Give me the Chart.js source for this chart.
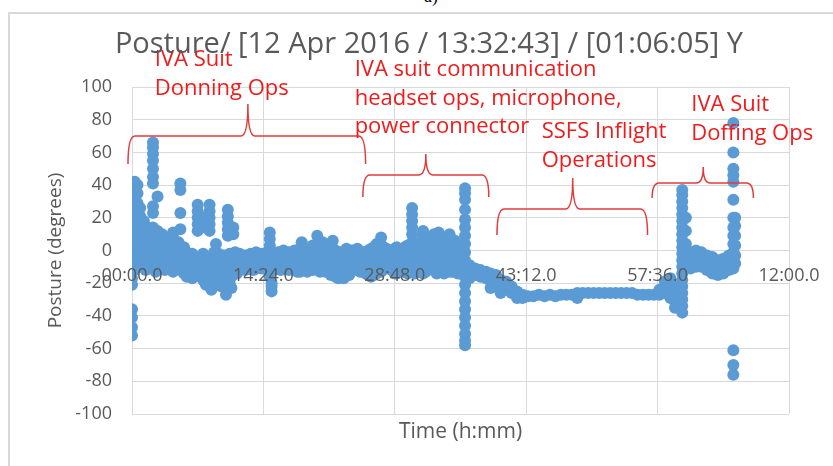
<!DOCTYPE html>
<html><head><meta charset="utf-8">
<script src="https://cdn.jsdelivr.net/npm/chart.js@4/dist/chart.umd.min.js"></script>
<style>
html,body{margin:0;padding:0;background:#fff;overflow:hidden;width:833px;height:466px;}
#frame{position:absolute;left:8px;top:12px;width:900px;height:500px;border:2px solid #d9d9d9;box-sizing:border-box;}
#wrap{position:absolute;left:0;top:0;width:858px;height:466px;}
#fig{position:absolute;left:424px;top:-14px;font:18px "Liberation Serif";color:#000;line-height:20px;}
</style></head><body>
<div id="fig">a)</div>
<div id="frame"></div>
<div id="wrap"><canvas id="c" width="858" height="466"></canvas></div>
<script>
// ---- tick labels (x axis in minutes, step 14.4 min) ----
const xTickLabels = ['00:00.0','14:24.0','28:48.0','43:12.0','57:36.0','12:00.0'];

// ---- data: time (minutes) and posture readings (degrees) ----
const donningTimes = [0.0,0.3,0.6,0.9,1.3,1.7,2.3,2.8,3.3,3.9,4.5,5.1,5.3,5.7,6.3,6.9,7.2,7.5,8.0,8.1,8.5,8.7,9.2,9.8,10.3,10.5,10.9,11.1,11.5,12.1,12.7,13.3,13.9,14.5,15.1,15.3,15.7,16.3,16.9,17.5,18.1,18.6,19.2,19.8,20.3,20.9,21.5,22.0,22.6,23.2,23.8,24.4,25.0];
const donningValues = [
  [-52,-47,-41,-36,-21,-17],
  [-12,-6,-1,4,9,13,17,22,27,32,38,42],
  [40,35,29,24,19,14,9,4,-2,-8],
  [26,21,16,11,6,0,-5,-10],
  [18,12,8,3,-3,-9],
  [14,9,5,0,-6,-11],
  [66,63,59,55,50,45,41,27,23,14,8,2,-4,-10],
  [33,12,6,1,-5,-11],
  [10,4,-2,-8],
  [7,2,-4,-10],
  [11,8,3,-3,-9,-13],
  [5,0,-5,-11],
  [41,37,23,13],
  [2,-4,-10,-14],
  [-3,-8,-13],
  [-4,-10,-15],
  [28,24,20,16,12],
  [-5,-11,-16],
  [20,14],
  [-4,-10,-17,-21],
  [28,24,20,16,12],
  [-5,-12,-18,-24],
  [4,-3,-9,-15,-20],
  [-5,-11,-17,-22],
  [-6,-12,-18,-27],
  [25,21,17,13,9],
  [-5,-11,-16,-23],
  [14,10],
  [-4,-10,-14],
  [-6,-11],
  [-5,-10],
  [-4,-9,-12],
  [-5,-10],
  [-3,-8,-11],
  [11,7,3,-1,-6,-11,-16],
  [-20,-22,-25],
  [-4,-10],
  [-2,-8,-12],
  [-5,-11],
  [-3,-9],
  [-4,-10,-13],
  [5,0,-6,-11],
  [-3,-9,-13],
  [3,-2,-8,-12],
  [9,4,-2,-8],
  [5,0,-5,-11],
  [2,-4,-10],
  [6,1,-5,-12],
  [-3,-9,-13,-17],
  [-1,-7,-12,-17],
  [0,-5,-10,-15],
  [-2,-8,-12],
  [-3,-9,-13]
];

// additional readings filling the dense band (0 - 36 min)
const bandTimes = [1.0,1.5,2.0,2.6,3.1,3.6,4.2,4.8,5.5,6.0,6.6,7.8,9.0,9.5,10.1,10.7,11.3,11.8,12.4,13.0,13.6,14.2,14.8,15.5,16.0,16.6,17.2,17.8,18.4,18.9,19.5,20.1,20.6,21.2,21.8,22.3,22.9,23.5,24.1,24.7,25.3,25.9,26.5,27.1,27.6,28.2,28.8,29.3,29.9,30.5,31.0,31.6,32.2,32.8,33.4,33.9,34.5,35.1,35.7];
const bandValues = [
  [2,-4,-10],[6,0,-7,-12],[3,-3,-9],[4,-2,-8,-13],[5,0,-6,-11],
  [3,-3,-9,-12],[6,0,-6,-11],[2,-3,-8,-12],[0,-6,-12],[-1,-7,-12,-16],
  [-2,-8,-13,-17],[-2,-8,-13,-18],[-1,-7,-12,-19],[-2,-8,-14,-21],[-3,-9,-15],
  [-2,-8,-14,-20],[-1,-7,-12],[-2,-8,-12],[-3,-8,-12],[-2,-7,-11],
  [-1,-6,-11],[-2,-7,-11],[-1,-6,-11],[-2,-7,-12],[-1,-6,-11],
  [0,-6,-11],[-1,-7,-12],[0,-6,-11],[1,-5,-10,-13],[-1,-7,-12],
  [0,-6,-11],[2,-4,-10],[3,-3,-9,-13],[2,-4,-10,-13],[1,-5,-11,-15],
  [0,-6,-12,-16],[-1,-7,-12,-15],[1,-4,-10,-14],[0,-6,-11],[1,-5,-11],
  [-1,-6,-12],[0,-6,-12,-15],[2,-4,-10,-15],[3,-2,-8,-13],[2,-4,-10],
  [0,-6,-11],[1,-5,-11,-14],[0,-6,-12],[2,-4,-10,-13],[3,-3,-9],
  [2,-4,-10,-14],[3,-3,-9,-13],[4,-2,-8,-13],[5,0,-6,-11],[3,-3,-9,-14],
  [4,-2,-8,-13],[6,1,-5,-11],[4,-2,-8,-13],[2,-4,-10,-14]
];

const commTimes = [25.6,26.2,26.8,27.3,27.9,28.5,29.0,29.6,30.2,30.7,31.3,31.9,32.5,33.1,33.6,34.2,34.8,35.4,35.9,36.5];
const commValues = [
  [-2,-8,-14],
  [1,-4,-10,-16],
  [4,-2,-8,-14],
  [8,3,-3,-9,-13],
  [1,-5,-11],
  [-2,-7,-12],
  [2,-4,-10,-14],
  [-1,-6,-12],
  [3,-3,-9,-14],
  [26,22,18,14,10,5,0,-6,-12],
  [4,-2,-8,-13],
  [12,8,3,-3,-9,-14],
  [7,2,-4,-10],
  [10,5,0,-6,-12],
  [11,6,0,-6,-13],
  [8,3,-3,-9,-14],
  [10,5,-1,-7,-13],
  [6,1,-5,-11],
  [3,-3,-9,-14],
  [38,35,31,25,19,14,9,4,-1,-6,-11,-16,-21,-26,-31,-36,-41,-46,-51,-55,-58]
];

const ssfsTimes = [37.0,37.6,38.2,38.8,39.3,39.9,40.4,41.0,41.6,42.2,42.8,43.4,44.0,44.6,45.2,45.8,46.4,47.0,47.6,48.2,48.8,49.4,50.0,50.6,51.2,51.8,52.4,53.0,53.6,54.2,54.8,55.4,56.0,56.6,57.2,57.8,58.4,59.0,59.5];
const ssfsValues = [
  [-9,-13,-17],
  [-11,-15],
  [-12,-16],
  [-13,-17],
  [-14,-19,-23],
  [-15,-20],
  [-18,-22,-26],
  [-19,-24],
  [-22,-26],
  [-25,-29],
  [-27,-29],
  [-28],
  [-28],
  [-27],
  [-28],
  [-27],
  [-28],
  [-27],
  [-27],
  [-27],
  [-26,-29],
  [-26],
  [-26],
  [-26],
  [-26],
  [-26],
  [-26],
  [-26],
  [-26],
  [-26],
  [-26],
  [-27],
  [-27],
  [-27],
  [-27],
  [-27,-24],
  [-26,-22,-19],
  [-25,-20,-17,-29],
  [-22,-27,-31,-35]
];

const doffingTimes = [60.3,60.7,61.2,61.8,62.4,63.0,63.6,64.2,64.8,65.4,65.9,66.1];
const doffingValues = [
  [37,34,30,26,22,18,14,10,6,2,-2,-6,-10,-14,-18,-22,-26,-30,-34,-38],
  [20,12,4,-2,-8],
  [-1,-6,-11],
  [0,-5,-10],
  [-1,-6,-10],
  [-3,-8,-12],
  [-4,-9,-14],
  [-6,-11,-15],
  [-5,-10,-14],
  [-3,-8,-12],
  [78,60,50,46,42,31,20,14,9,4,-1,-6,-11,-61,-70,-76],
  [20,15,9,3,-3,-8]
];

// ---- annotations (anchored in data units: minutes, degrees) ----
const noteText = [
  ['IVA Suit','Donning Ops'],
  ['IVA suit communication','headset ops, microphone,','power connector'],
  ['SSFS Inflight','Operations'],
  ['IVA Suit','Doffing Ops']
];
const noteAt = [[2.5,116.5],[24.4,110.4],[44.9,72.5],[61.3,89]];
const braceFrom  = [-0.44, 25.3, 40.0, 57.0];
const braceTo    = [25.6, 39.1, 56.5, 68.1];
const braceTip   = [12.7, 32.2, 48.3, 62.6];
const braceLevel = [70, 46.2, 25.4, 41.3];
const braceFoot  = [52.9, 32.7, 9.5, 32.1];
const bracePeak  = [89.6, 59, 44.3, 51.1];

const TITLE = 'Posture/ [12 Apr 2016 / 13:32:43] / [01:06:05] Y';

function toPoints(times, values) {
  const pts = [];
  times.forEach((t, i) => (values[i] || []).forEach(v => pts.push({x: t, y: v})));
  return pts;
}
const phases = [[donningTimes, donningValues],[bandTimes, bandValues],[commTimes, commValues],[ssfsTimes, ssfsValues],[doffingTimes, doffingValues]];
const BLUE = '#5b9bd5';
const datasets = phases.map(p => ({
  data: toPoints(p[0], p[1]),
  backgroundColor: BLUE, borderColor: BLUE,
  pointBackgroundColor: BLUE, pointBorderColor: BLUE,
  pointRadius: 6, pointBorderWidth: 0, pointHoverRadius: 6, pointHoverBorderWidth: 0
}));

const overlay = {
  id: 'overlay',
  afterDraw(chart) {
    const ctx = chart.ctx, xs = chart.scales.x, ys = chart.scales.y;
    ctx.save();
    // braces
    ctx.strokeStyle = '#e23b3b'; ctx.lineWidth = 1.5;
    for (let i = 0; i < braceFrom.length; i++) {
      const x0 = xs.getPixelForValue(braceFrom[i]), x1 = xs.getPixelForValue(braceTo[i]);
      const xm = xs.getPixelForValue(braceTip[i]);
      const yl = ys.getPixelForValue(braceLevel[i]), yf = ys.getPixelForValue(braceFoot[i]);
      const yp = ys.getPixelForValue(bracePeak[i]);
      const r = 7;
      ctx.beginPath();
      ctx.moveTo(x0, yf);
      ctx.quadraticCurveTo(x0, yl, x0 + r, yl);
      ctx.lineTo(xm - r, yl);
      ctx.quadraticCurveTo(xm, yl, xm, yp);
      ctx.quadraticCurveTo(xm, yl, xm + r, yl);
      ctx.lineTo(x1 - r, yl);
      ctx.quadraticCurveTo(x1, yl, x1, yf);
      ctx.stroke();
    }
    // notes
    ctx.fillStyle = '#ee1c1c';
    ctx.font = '22px "Open Sans"';
    ctx.textAlign = 'left'; ctx.textBaseline = 'middle';
    noteText.forEach((lines, i) => {
      const x = xs.getPixelForValue(noteAt[i][0]), y = ys.getPixelForValue(noteAt[i][1]);
      lines.forEach((s, j) => ctx.fillText(s, x, y + j * 28.5));
    });
    // title
    ctx.fillStyle = '#595959';
    ctx.font = '29px "Open Sans"';
    ctx.textAlign = 'center';
    ctx.fillText(TITLE, chart.width / 2, 45);
    ctx.restore();
  }
};

new Chart(document.getElementById('c'), {
  type: 'scatter',
  data: { datasets },
  options: {
    responsive: false, animation: false, devicePixelRatio: 1,
    elements: { point: { radius: 6, borderWidth: 0, backgroundColor: BLUE, borderColor: BLUE } },
    layout: { padding: { top: 87, right: 69, bottom: 0, left: 0 } },
    plugins: { legend: { display: false }, tooltip: { enabled: false }, title: { display: false } },
    scales: {
      y: {
        min: -100, max: 100,
        ticks: { stepSize: 20, color: '#595959', font: { family: 'Open Sans', size: 18 }, padding: 20 },
        grid: { color: '#d9d9d9', drawTicks: false },
        border: { display: false },
        title: { display: true, text: 'Posture (degrees)', color: '#595959', font: { family: 'Open Sans', size: 19 }, padding: { top: 44, bottom: 0 } },
        afterFit: s => { s.width = 132; }
      },
      x: {
        type: 'linear', position: { y: 0 }, min: 0, max: 72,
        ticks: { stepSize: 14.4, color: '#595959', font: { family: 'Open Sans', size: 18 }, padding: 15, z: 1, maxRotation: 0, autoSkip: false,
                 callback: (v, i) => xTickLabels[i] },
        grid: { color: '#d9d9d9', drawTicks: false },
        border: { color: '#d9d9d9' }
      },
      x2: {
        type: 'linear', position: 'bottom', min: 0, max: 72,
        ticks: { display: false }, grid: { display: false, drawTicks: false }, border: { display: false },
        title: { display: true, text: 'Time (h:mm)', color: '#595959', font: { family: 'Open Sans', size: 21 }, padding: { top: 0, bottom: 21 } },
        afterFit: s => { s.height = 52; }
      }
    }
  },
  plugins: [overlay]
});
</script>
</body></html>
